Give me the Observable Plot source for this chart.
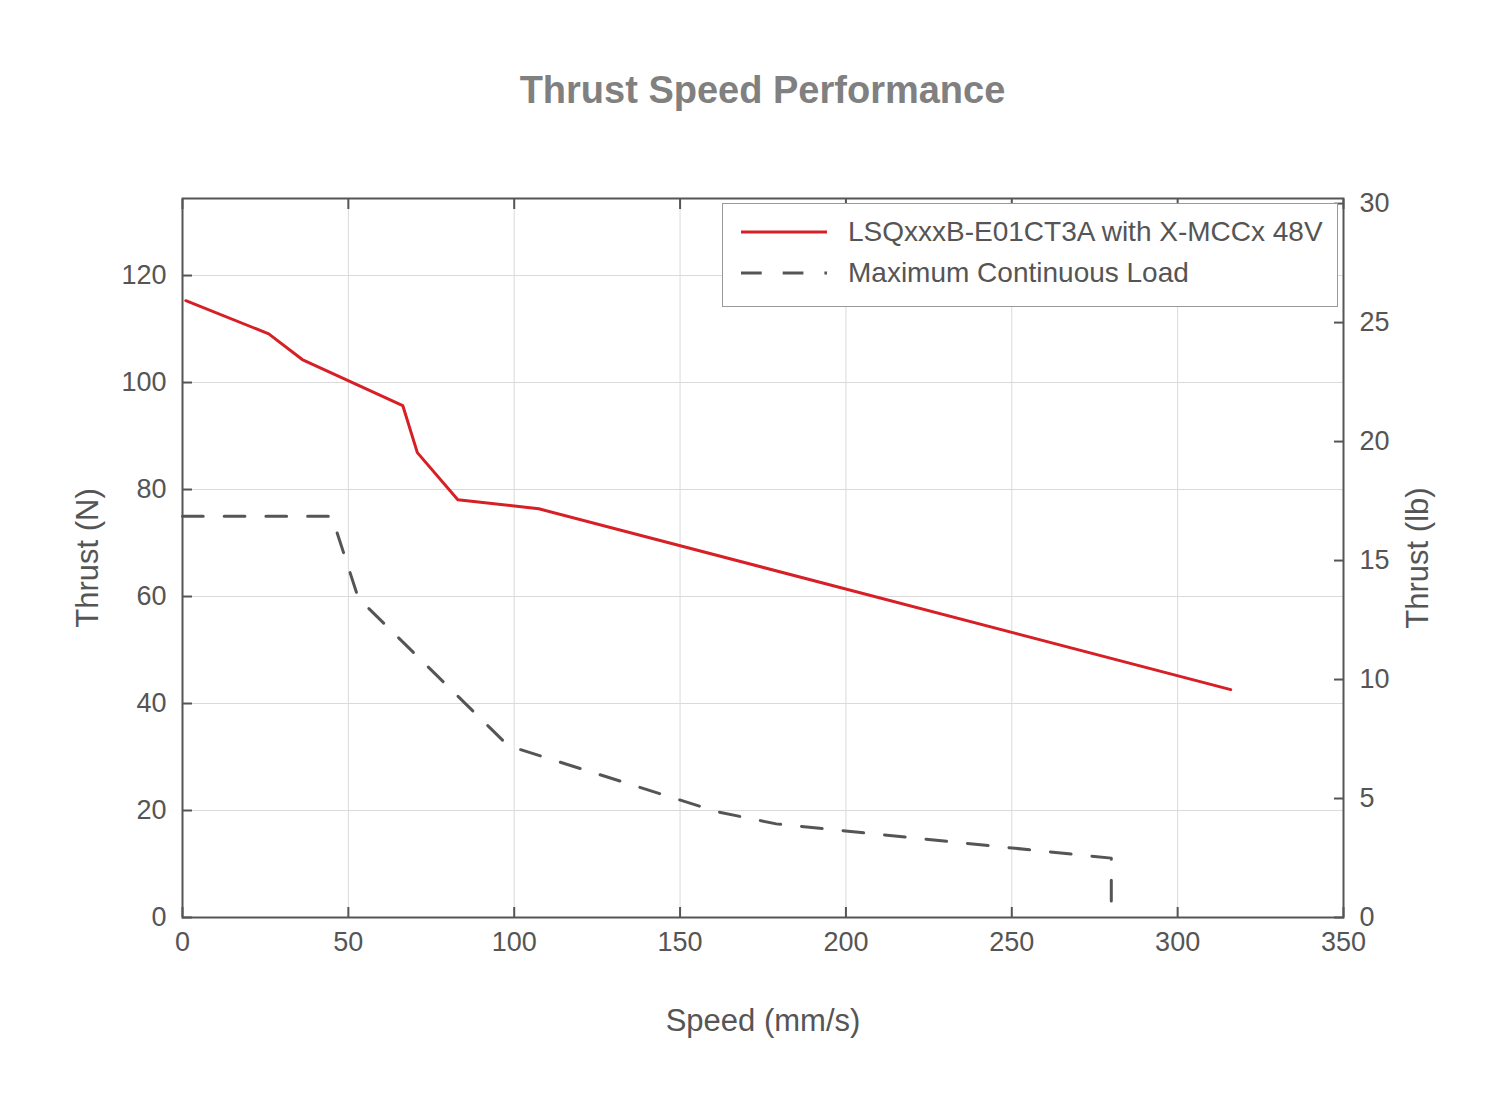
<!DOCTYPE html>
<html>
<head>
<meta charset="utf-8">
<script src="https://cdn.jsdelivr.net/npm/d3@7"></script>
<script src="https://cdn.jsdelivr.net/npm/@observablehq/plot@0.6"></script>
<style>
  html, body { margin: 0; padding: 0; background: white; }
  #wrap { position: relative; width: 1510px; height: 1113px; font-family: "Liberation Sans", Arial, sans-serif; }
  #title { box-sizing: border-box; height: 140px; padding-top: 71px; padding-left: 15px; text-align: center; font-size: 38px; line-height: 38px; font-weight: bold; color: #808080; }
  #legend { position: absolute; left: 722px; top: 203px; width: 614px; height: 102px; border: 1.5px solid #9a9a9a; background: white; }
  .item { position: absolute; left: 18px; height: 40px; display: flex; align-items: center; font-size: 28px; color: #555; }
  .item svg { margin-right: 21px; }
  #chart svg { display: block; }
</style>
</head>
<body>
<div id="wrap">
  <div id="title">Thrust Speed Performance</div>
  <div id="chart"></div>
  <div id="legend"></div>
</div>
<script>
// Data
const redSpeed  = [1, 26, 36.1, 66.4, 70.8, 83.0, 107.4, 316];
const redThrust = [115.3, 109.1, 104.3, 95.7, 86.9, 78.1, 76.4, 42.6];
const loadSpeed  = [0, 45, 53, 98.2, 161, 179, 280, 280];
const loadThrust = [75, 75, 59.7, 32.1, 19.8, 17.5, 11.1, 0];
const xTicks  = [0, 50, 100, 150, 200, 250, 300, 350];
const yTicks  = [0, 20, 40, 60, 80, 100, 120];
const lbTicks = [0, 5, 10, 15, 20, 25, 30];
const seriesNames = ["LSQxxxB-E01CT3A with X-MCCx 48V", "Maximum Continuous Load"];
const LB = 4.44822;

const red = redSpeed.map((s, i) => ({speed: s, thrust: redThrust[i]}));
const load = loadSpeed.map((s, i) => ({speed: s, thrust: loadThrust[i]}));
const lbInN = lbTicks.map(l => l * LB);

const axisColor = "#555";
const redColor = "#d71f26";
const dash = "20.7,21";
const tick = 10;

const plot = Plot.plot({
  width: 1510,
  height: 973,
  marginTop: 58,
  marginBottom: 196,
  marginLeft: 182,
  marginRight: 167,
  x: {domain: [0, 350]},
  y: {domain: [0, 134.4]},
  style: {fontFamily: "'Liberation Sans', Arial, sans-serif", fontSize: "27px", color: axisColor, background: "white", overflow: "visible"},
  marks: [
    Plot.gridX(xTicks, {stroke: "#dadada", strokeOpacity: 1, strokeWidth: 1}),
    Plot.gridY(yTicks, {stroke: "#dadada", strokeOpacity: 1, strokeWidth: 1}),
    Plot.line(red, {x: "speed", y: "thrust", stroke: redColor, strokeWidth: 3}),
    Plot.line(load, {x: "speed", y: "thrust", stroke: axisColor, strokeWidth: 3, strokeDasharray: dash}),
    Plot.frame({stroke: axisColor, strokeWidth: 2}),
    // inward ticks
    Plot.axisX(xTicks, {anchor: "bottom", tickSize: tick, dy: -tick, text: null, label: null, stroke: axisColor, strokeWidth: 2}),
    Plot.axisX(xTicks, {anchor: "top", tickSize: tick, dy: tick, text: null, label: null, stroke: axisColor, strokeWidth: 2}),
    Plot.axisY(yTicks, {anchor: "left", tickSize: tick, dx: tick, text: null, label: null, stroke: axisColor, strokeWidth: 2}),
    Plot.axisY(lbInN, {anchor: "right", tickSize: tick, dx: -tick, text: null, label: null, stroke: axisColor, strokeWidth: 2}),
    // tick labels
    Plot.axisX(xTicks, {anchor: "bottom", tickSize: 0, tickPadding: 14, label: null, fill: axisColor, fontSize: 27}),
    Plot.axisY(yTicks, {anchor: "left", tickSize: 0, tickPadding: 16, label: null, fill: axisColor, fontSize: 27}),
    Plot.axisY(lbInN, {anchor: "right", tickSize: 0, tickPadding: 16, label: null, fill: axisColor, fontSize: 27,
      tickFormat: d => String(Math.round(d / LB))}),
    // axis titles
    Plot.text(["Speed (mm/s)"], {frameAnchor: "bottom", dy: 104, fontSize: 31, fill: axisColor, textAnchor: "middle", lineAnchor: "middle"}),
    Plot.text(["Thrust (N)"], {frameAnchor: "left", dx: -94, rotate: -90, fontSize: 31, fill: axisColor, textAnchor: "middle", lineAnchor: "middle"}),
    Plot.text(["Thrust (lb)"], {frameAnchor: "right", dx: 75, rotate: -90, fontSize: 31, fill: axisColor, textAnchor: "middle", lineAnchor: "middle"})
  ]
});
document.getElementById("chart").appendChild(plot);

// Legend
const legend = document.getElementById("legend");
const styles = [
  {stroke: redColor, dash: null},
  {stroke: axisColor, dash: dash}
];
seriesNames.forEach((name, i) => {
  const div = document.createElement("div");
  div.className = "item";
  div.style.top = (i === 0 ? 8 : 49) + "px";
  const ns = "http://www.w3.org/2000/svg";
  const svg = document.createElementNS(ns, "svg");
  svg.setAttribute("width", 86);
  svg.setAttribute("height", 10);
  const ln = document.createElementNS(ns, "line");
  ln.setAttribute("x1", 0); ln.setAttribute("x2", 86);
  ln.setAttribute("y1", 5); ln.setAttribute("y2", 5);
  ln.setAttribute("stroke", styles[i].stroke);
  ln.setAttribute("stroke-width", 3);
  if (styles[i].dash) ln.setAttribute("stroke-dasharray", styles[i].dash);
  svg.appendChild(ln);
  div.appendChild(svg);
  const span = document.createElement("span");
  span.textContent = name;
  div.appendChild(span);
  legend.appendChild(div);
});
</script>
</body>
</html>
